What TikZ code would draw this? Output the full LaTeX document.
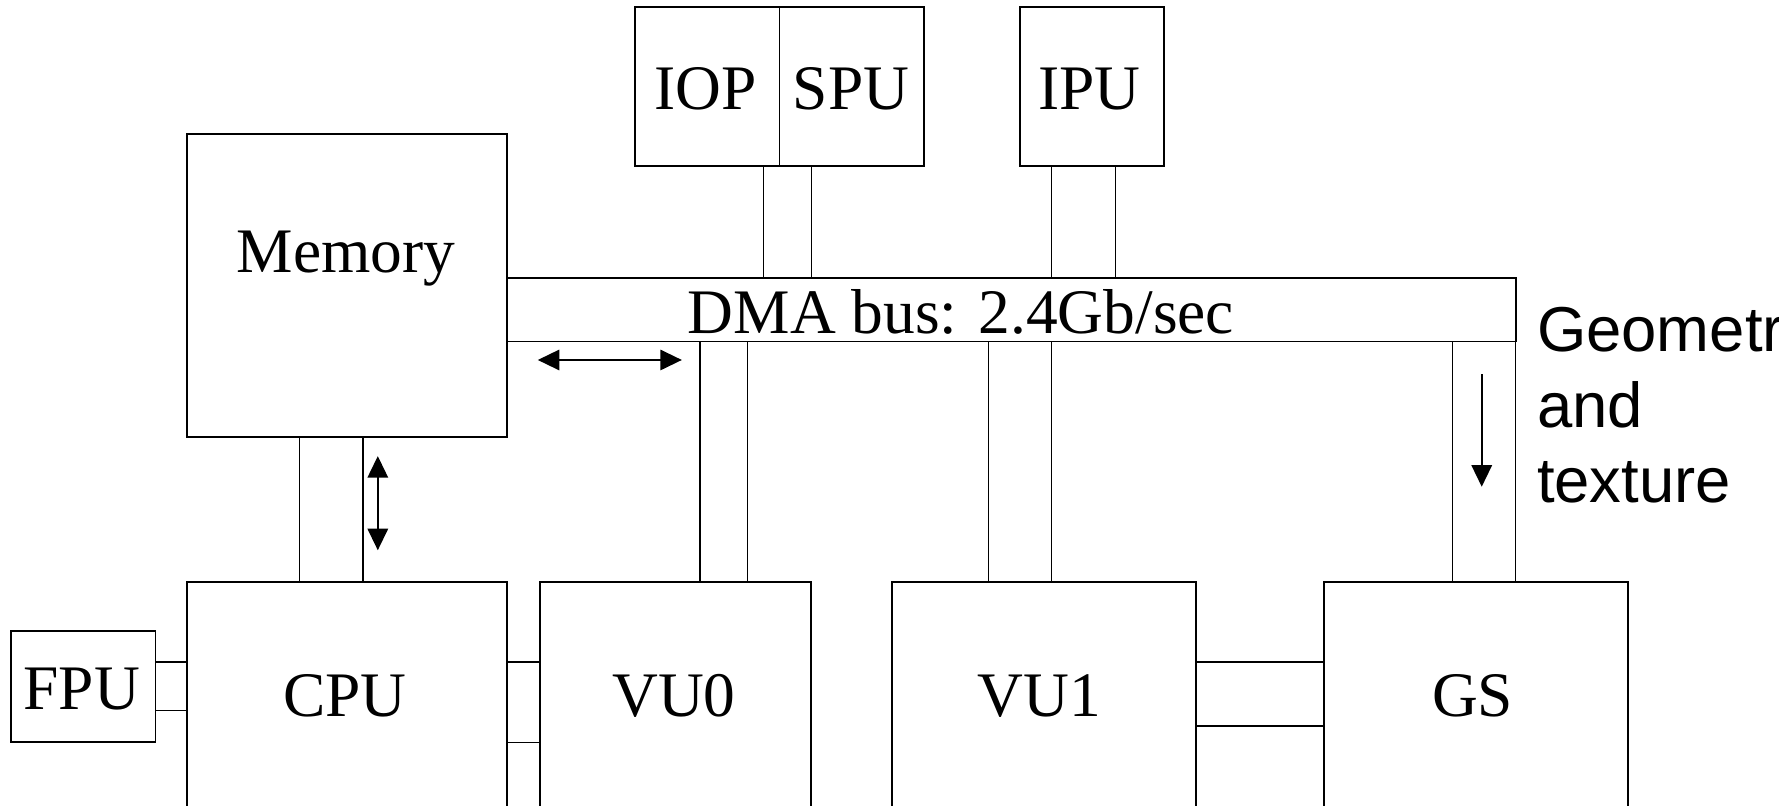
\documentclass[tikz,border=0pt]{standalone}
\usepackage{fontspec}
\setmainfont{Liberation Serif}
\newfontfamily\sansfam{Liberation Sans}
\usetikzlibrary{arrows.meta}
\begin{document}
\begin{tikzpicture}[x=0.01cm,y=-0.01cm,
  box/.style={draw,line width=0.45pt,inner sep=0pt,outer sep=0pt,anchor=north west},
  wire/.style={line width=0.35pt},
  lbl/.style={inner sep=0pt,anchor=base,font=\fontsize{15.9}{19}\selectfont},
  slbl/.style={inner sep=0pt,anchor=base west,font=\sansfam\fontsize{15.9}{19}\selectfont},
  tip/.style={line width=0.45pt,-{Triangle[length=0.19cm,width=0.18cm]}},
  dtip/.style={line width=0.45pt,{Triangle[length=0.19cm,width=0.18cm]}-{Triangle[length=0.19cm,width=0.18cm]}}]
\useasboundingbox (0,0) rectangle (1568,710);
% boxes
\node[box,minimum width=1.27cm,minimum height=1.40cm] (iop) at (560,6) {};
\node[box,minimum width=1.27cm,minimum height=1.40cm] (spu) at (687,6) {};
\node[box,minimum width=1.27cm,minimum height=1.40cm] (ipu) at (899,6) {};
\node[box,minimum width=2.82cm,minimum height=2.67cm] (mem) at (165,118) {};
\node[box,minimum width=8.89cm,minimum height=0.56cm] (bus) at (447,245) {};
\node[box,minimum width=2.82cm,minimum height=3.2cm] (cpu) at (165,513) {};
\node[box,minimum width=2.39cm,minimum height=3.2cm] (vu0) at (476,513) {};
\node[box,minimum width=2.68cm,minimum height=3.2cm] (vu1) at (786,513) {};
\node[box,minimum width=2.68cm,minimum height=3.2cm] (gs) at (1167,513) {};
\node[box,minimum width=1.27cm,minimum height=0.98cm] (fpu) at (10,556) {};
% labels
\node[lbl] (tiop) at (622,96.4) {IOP};
\node[lbl] (tspu) at (750,96.4) {SPU};
\node[lbl] (tipu) at (960,96.4) {IPU};
\node[lbl] (tmem) at (305,240) {Memory};
\node[lbl] (tbus) at (847,293.6) {DMA bus: 2.4Gb/sec};
\node[lbl] (tfpu) at (72,625) {FPU};
\node[lbl] (tcpu) at (304,631.6) {CPU};
\node[lbl] (tvu0) at (594,631.6) {VU0};
\node[lbl] (tvu1) at (916,631.6) {VU1};
\node[lbl] (tgs) at (1298,631.6) {GS};
\node[slbl] (g1) at (1354,310) {Geometry};
\node[slbl] (g2) at (1354,376.5) {and};
\node[slbl] (g3) at (1354,443) {texture};
% guide coordinates
\coordinate (X673) at (673,0);
\coordinate (X715) at (715,0);
\coordinate (X927) at (927,0);
\coordinate (X983) at (983,0);
\coordinate (X617) at (617,0);
\coordinate (X659) at (659,0);
\coordinate (X871) at (871,0);
\coordinate (X1280) at (1280,0);
\coordinate (X1336) at (1336,0);
\coordinate (X264) at (264,0);
\coordinate (X320) at (320,0);
\coordinate (Y583) at (0,583.5);
\coordinate (Y626) at (0,626);
\coordinate (Y654) at (0,654.5);
\coordinate (Y639) at (0,640);
% wires
\draw[wire] (iop.south -| X673) -- (bus.north -| X673);
\draw[wire] (spu.south -| X715) -- (bus.north -| X715);
\draw[wire] (ipu.south -| X927) -- (bus.north -| X927);
\draw[wire] (ipu.south -| X983) -- (bus.north -| X983);
\draw[wire] (bus.south -| X617) -- (vu0.north -| X617);
\draw[wire] (bus.south -| X659) -- (vu0.north -| X659);
\draw[wire] (bus.south -| X871) -- (vu1.north -| X871);
\draw[wire] (bus.south -| X927) -- (vu1.north -| X927);
\draw[wire] (bus.south -| X1280) -- (gs.north -| X1280);
\draw[wire] (bus.south -| X1336) -- (gs.north -| X1336);
\draw[wire] (mem.south -| X264) -- (cpu.north -| X264);
\draw[wire] (mem.south -| X320) -- (cpu.north -| X320);
\draw[wire] (fpu.east |- Y583) -- (cpu.west |- Y583);
\draw[wire] (fpu.east |- Y626) -- (cpu.west |- Y626);
\draw[wire] (cpu.east |- Y583) -- (vu0.west |- Y583);
\draw[wire] (cpu.east |- Y654) -- (vu0.west |- Y654);
\draw[wire] (vu1.east |- Y583) -- (gs.west |- Y583);
\draw[wire] (vu1.east |- Y639) -- (gs.west |- Y639);
% arrows
\coordinate (ha) at (474,317.3);
\coordinate (hb) at (601,317.3);
\coordinate (va) at (333,402);
\coordinate (vb) at (333,485);
\coordinate (ga) at (1306,330);
\coordinate (gb) at (1306,429);
\draw[dtip] (ha) -- (hb);
\draw[dtip] (va) -- (vb);
\draw[tip] (ga) -- (gb);
\end{tikzpicture}
\end{document}
